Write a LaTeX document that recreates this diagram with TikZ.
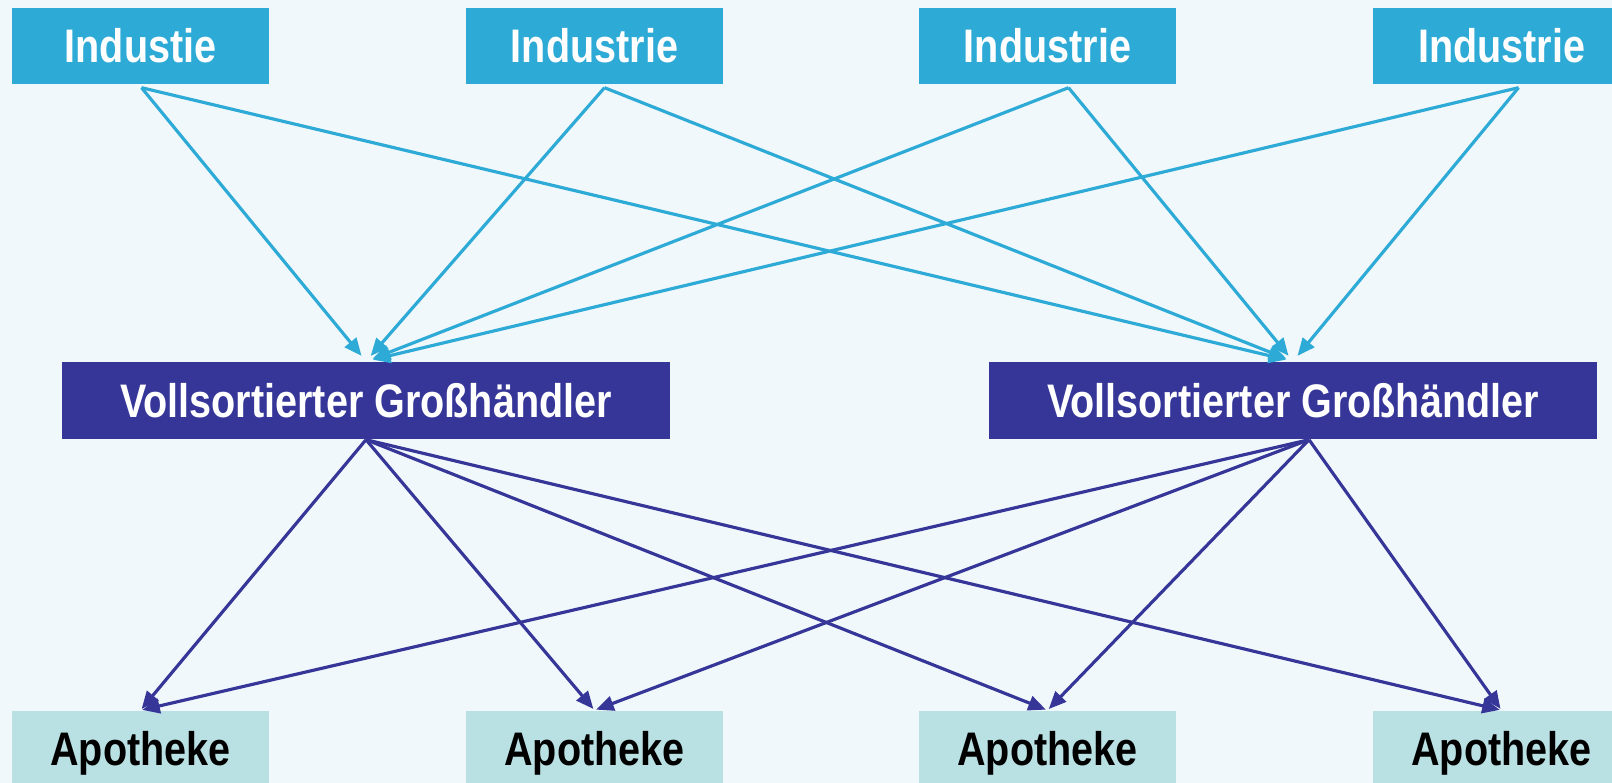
\documentclass[tikz,border=0pt]{standalone}
\usepackage{fontspec}
\newfontfamily\boxfont{Liberation Sans}[FakeStretch=0.84]
\usepackage{tikz}
\usetikzlibrary{arrows.meta}
\definecolor{indcol}{HTML}{2EAAD6}
\definecolor{grocol}{HTML}{363699}
\definecolor{apocol}{HTML}{B9E0E3}
\definecolor{bgcol}{HTML}{F1F8FC}

\tikzset{
box/.style={rectangle, inner sep=0pt, minimum height=0.76cm, text height=0.34cm, text depth=0pt,
  font=\boxfont\bfseries\fontsize{13.4}{16}\selectfont},
industrie/.style={box, fill=indcol, text=white, minimum width=2.57cm},
haendler/.style={box, fill=grocol, text=white, minimum width=6.08cm, minimum height=0.77cm},
apotheke/.style={box, fill=apocol, text=black, minimum width=2.57cm},
oben/.style={draw=indcol, line width=0.9pt, -{Triangle[length=5pt,width=4.2pt]}, shorten >=2pt},
unten/.style={draw=grocol, line width=0.9pt, -{Triangle[length=5pt,width=4.2pt]}, shorten >=0.5pt}
}

\begin{document}
\begin{tikzpicture}
\useasboundingbox (0,0) rectangle (16.12,7.83);
\clip (0,0) rectangle (16.12,7.83);
\fill[bgcol] (0,0) rectangle (16.12,7.83);
% draws boxes
\node[industrie] (ind1) at (1.405,7.37) {Industie};
\node[industrie] (ind2) at (5.945,7.37) {Industrie};
\node[industrie] (ind3) at (10.475,7.37) {Industrie};
\node[industrie] (ind4) at (15.015,7.37) {Industrie};
\node[haendler] (gro1) at (3.66,3.825) {Vollsortierter Großhändler};
\node[haendler] (gro2) at (12.93,3.825) {Vollsortierter Großhändler};
\node[apotheke] (apo1) at (1.405,0.34) {Apotheke};
\node[apotheke] (apo2) at (5.945,0.34) {Apotheke};
\node[apotheke] (apo3) at (10.475,0.34) {Apotheke};
\node[apotheke] (apo4) at (15.015,0.34) {Apotheke};
% start points
\coordinate (s1) at ([xshift=0.01cm,yshift=-0.03cm]ind1.south);
\coordinate (s2) at ([xshift=0.1cm,yshift=-0.03cm]ind2.south);
\coordinate (s3) at ([xshift=0.21cm,yshift=-0.03cm]ind3.south);
\coordinate (s4) at ([xshift=0.17cm,yshift=-0.03cm]ind4.south);
\coordinate (g1) at (gro1.south);
\coordinate (g2) at ([xshift=0.16cm]gro2.south);
% draws edges
\draw[oben] (s1) to (gro1.north);
\draw[oben] (s2) to (gro1.north);
\draw[oben] (s3) to (gro1.north);
\draw[oben] (s4) to (gro1.north);
\draw[oben] (s1) to (gro2.north);
\draw[oben] (s2) to (gro2.north);
\draw[oben] (s3) to (gro2.north);
\draw[oben] (s4) to (gro2.north);
\draw[unten] (g1) to (apo1.north);
\draw[unten] (g1) to (apo2.north);
\draw[unten] (g1) to (apo3.north);
\draw[unten] (g1) to (apo4.north);
\draw[unten] (g2) to (apo1.north);
\draw[unten] (g2) to (apo2.north);
\draw[unten] (g2) to (apo3.north);
\draw[unten] (g2) to (apo4.north);
\end{tikzpicture}
\end{document}
